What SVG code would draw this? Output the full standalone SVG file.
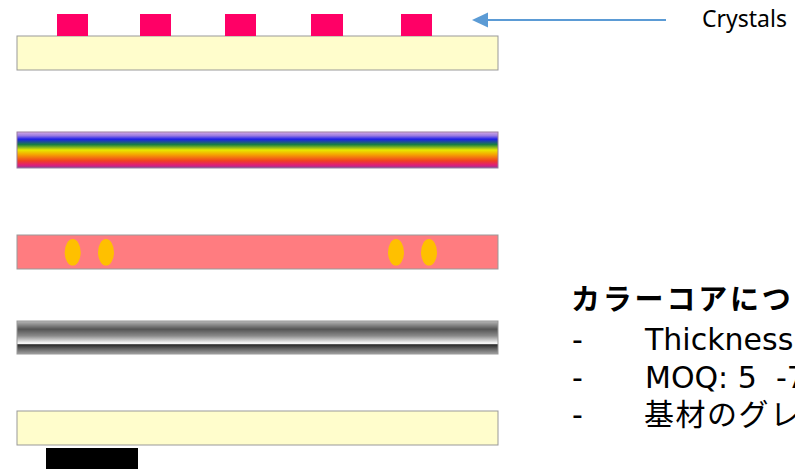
<svg xmlns="http://www.w3.org/2000/svg" width="795" height="469" viewBox="0 0 795 469">
<style>
.bar{stroke:#999;stroke-width:1}
.cry{fill:#FF0066}
.dot{fill:#FFC000}
.t{font-family:"DejaVu Sans","Noto Sans CJK JP",sans-serif;font-size:30px;fill:#000}
.h{font-family:"Noto Sans CJK JP",sans-serif;font-size:29px;font-weight:bold;fill:#000;letter-spacing:2.8px}
.j{font-family:"Noto Sans CJK JP",sans-serif;font-size:30px;fill:#000;letter-spacing:1.5px}
</style>
<defs>
<linearGradient id="rainbow" x1="0" y1="0" x2="0" y2="1">
<stop offset="0" stop-color="#D4A8E8"/>
<stop offset="0.1" stop-color="#9A7CE0"/>
<stop offset="0.2" stop-color="#2020E8"/>
<stop offset="0.35" stop-color="#1A8040"/>
<stop offset="0.5" stop-color="#E8E800"/>
<stop offset="0.62" stop-color="#F5A800"/>
<stop offset="0.8" stop-color="#F04020"/>
<stop offset="0.92" stop-color="#E01E78"/>
<stop offset="1" stop-color="#8A3E96"/>
</linearGradient>
<linearGradient id="chrome" x1="0" y1="0" x2="0" y2="1">
<stop offset="0" stop-color="#B8B8B8"/>
<stop offset="0.25" stop-color="#555"/>
<stop offset="0.45" stop-color="#8A8A8A"/>
<stop offset="0.68" stop-color="#FFFFFF"/>
<stop offset="0.72" stop-color="#2A2A2A"/>
<stop offset="0.85" stop-color="#666"/>
<stop offset="1" stop-color="#A0A0A0"/>
</linearGradient>
</defs>

<g id="layer1">
<rect class="bar" x="17" y="36" width="481" height="34" fill="#FFFDCC"/>
<rect class="cry" x="57" y="14" width="31" height="22"/>
<rect class="cry" x="140" y="14" width="31" height="22"/>
<rect class="cry" x="225" y="14" width="31" height="22"/>
<rect class="cry" x="311" y="14" width="32" height="22"/>
<rect class="cry" x="401" y="14" width="31" height="22"/>
</g>

<g id="crystals-label">
<text x="702" y="27" font-family="Noto Sans, sans-serif" font-size="24" textLength="85" lengthAdjust="spacingAndGlyphs" fill="#000">Crystals</text>
</g>

<g id="connectors">
<line x1="666" y1="20" x2="488" y2="20" stroke="#5B9BD5" stroke-width="1.8"/>
<path d="M472,20 L488,12.5 L488,27.5 Z" fill="#5B9BD5"/>
</g>

<g id="layer2">
<rect x="17" y="132" width="481" height="36" fill="url(#rainbow)" stroke="#9A7FA0" stroke-width="1"/>
</g>

<g id="layer3">
<rect class="bar" x="17" y="235" width="481" height="34" fill="#FF7C80"/>
<ellipse class="dot" cx="72.7" cy="252.3" rx="8" ry="13.3"/>
<ellipse class="dot" cx="106" cy="252.3" rx="8" ry="13.3"/>
<ellipse class="dot" cx="396" cy="252.3" rx="8" ry="13.3"/>
<ellipse class="dot" cx="429" cy="252.3" rx="8" ry="13.3"/>
</g>

<g id="layer4">
<rect class="bar" x="17" y="321" width="481" height="33" fill="url(#chrome)"/>
</g>

<g id="layer5">
<rect class="bar" x="17" y="411" width="481" height="34" fill="#FFFDCC"/>
<rect x="46" y="448" width="92" height="21" fill="#000"/>
</g>

<g id="notes">
<text class="h" x="571" y="310">カラーコアにつ</text>
<text class="t" x="572" y="350">-</text>
<text class="t" x="645" y="350">Thickness</text>
<text class="t" x="572" y="388">-</text>
<text class="t" x="645" y="388">MOQ: 5<tspan x="776">-7</tspan></text>
<text class="t" x="572" y="425">-</text>
<text class="j" x="644" y="425">基材のグレ</text>
</g>
</svg>
